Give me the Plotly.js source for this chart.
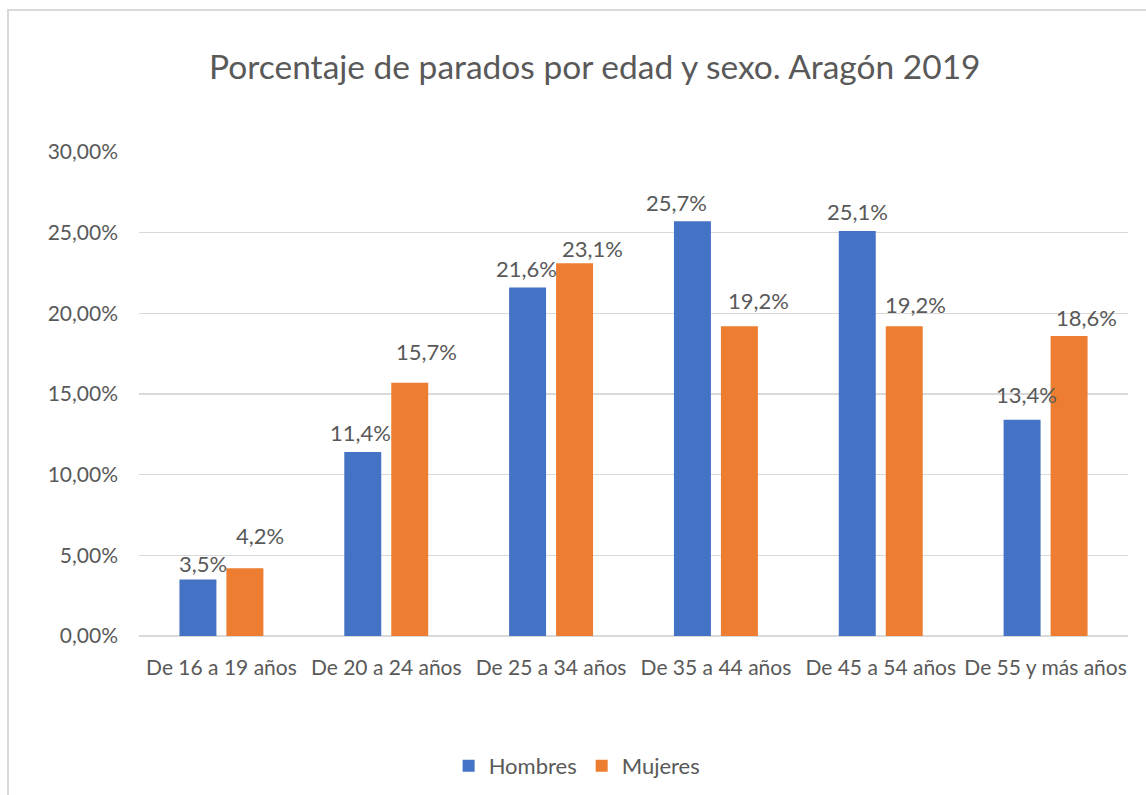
<!DOCTYPE html>
<html>
<head>
<meta charset="utf-8">
<script src="https://cdn.plot.ly/plotly-3.0.1.min.js"></script>
<style>
  html, body { margin: 0; padding: 0; background: #fff; overflow: hidden; }
  #chart { width: 1146px; height: 795px; position: relative; }
  #frame { position: absolute; left: 7px; top: 9px; width: 1200px; height: 900px;
           border: 2px solid #d9d9d9; pointer-events: none; box-sizing: border-box; }
</style>
</head>
<body>
<div id="chart"></div>
<div id="frame"></div>
<script>
// ---- data ----
const categories = ["De 16 a 19 años", "De 20 a 24 años", "De 25 a 34 años",
                    "De 35 a 44 años", "De 45 a 54 años", "De 55 y más años"];
const hombres = [0.035, 0.114, 0.216, 0.257, 0.251, 0.134];
const mujeres = [0.042, 0.157, 0.231, 0.192, 0.192, 0.186];
const seriesNames = ["Hombres", "Mujeres"];
const yTicks = [0, 0.05, 0.10, 0.15, 0.20, 0.25, 0.30];

// ---- styling (label nudges as in the source, in px) ----
const colors = ["#4472C4", "#ED7D31"];
const textColor = "#595959";
const barHalfOffset = 23.5;
const labelDx = [[5, -2, -1, -15.5, 0, 4.5], [15.5, 17, 17.5, 19, 11, 17]];
const labelDy = [[16, 20, 19.5, 19, 19.5, 25], [33, 31, 15, 26, 22, 18.6]];

function fmt(v) { return (v * 100).toFixed(1).replace('.', ',') + '%'; }

const seriesVals = [hombres, mujeres];
const traces = seriesVals.map((vals, i) => ({
  type: 'bar', name: seriesNames[i], x: categories, y: vals,
  marker: { color: colors[i] }, hoverinfo: 'skip'
}));

const annotations = [];
seriesVals.forEach((vals, i) => {
  vals.forEach((v, j) => {
    annotations.push({
      xref: 'x', yref: 'y', x: categories[j], y: v, text: fmt(v),
      showarrow: false, xanchor: 'center', yanchor: 'middle',
      xshift: (i === 0 ? -barHalfOffset : barHalfOffset) + labelDx[i][j],
      yshift: labelDy[i][j],
      font: { family: 'Lato, sans-serif', size: 22, color: textColor }
    });
  });
});

const layout = {
  width: 1146, height: 795,
  margin: { l: 139, r: 18, t: 152, b: 159, autoexpand: false },
  paper_bgcolor: '#ffffff', plot_bgcolor: '#ffffff',
  separators: ',.',
  font: { family: 'Lato, sans-serif', color: textColor },
  title: {
    text: 'Porcentaje de parados por edad y sexo. Aragón 2019',
    font: { family: 'Lato, sans-serif', size: 33.5, color: textColor },
    xref: 'container', x: 0.519, xanchor: 'center',
    yref: 'container', y: 0.916, yanchor: 'middle'
  },
  barmode: 'group', bargap: 0.43, bargroupgap: 0.213,
  xaxis: {
    type: 'category', showgrid: false, zeroline: false, showline: false,
    ticks: '', ticklabelstandoff: 17, automargin: false,
    tickfont: { family: 'Lato, sans-serif', size: 21, color: textColor }
  },
  yaxis: {
    range: [0, 0.30], tickvals: yTicks, tickformat: '.2%',
    showgrid: true, gridcolor: '#d9d9d9', gridwidth: 1.5,
    zeroline: true, zerolinecolor: '#d9d9d9', zerolinewidth: 1.5,
    showline: false, ticks: '', ticklabelstandoff: 20, automargin: false,
    tickfont: { family: 'Lato, sans-serif', size: 21, color: textColor }
  },
  showlegend: true,
  legend: {
    orientation: 'h', xref: 'paper', x: 0.443, xanchor: 'center',
    yref: 'container', y: 0.0365, yanchor: 'middle',
    font: { family: 'Lato, sans-serif', size: 22, color: textColor },
    itemclick: false, itemdoubleclick: false
  },
  annotations: annotations
};

Plotly.newPlot('chart', traces, layout, { displayModeBar: false, staticPlot: true });
</script>
</body>
</html>
